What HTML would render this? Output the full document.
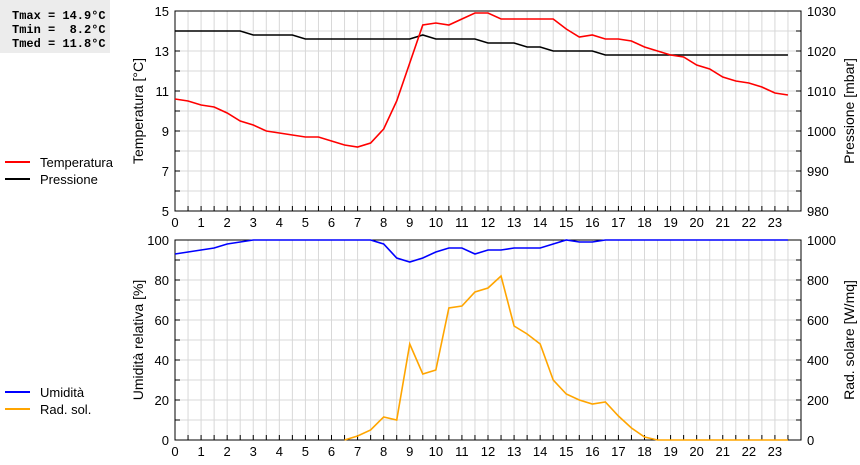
<!DOCTYPE html>
<html><head><meta charset="utf-8"><style>
body{margin:0;background:#fff;font-family:"Liberation Sans",sans-serif}
svg text{font-family:"Liberation Sans",sans-serif;font-size:13px;fill:#000}
</style></head><body>
<svg id="c" width="860" height="460" xmlns="http://www.w3.org/2000/svg">
<rect x="0" y="0" width="110" height="53" fill="#ececec"/>
<text x="12" y="19" style="font-family:'Liberation Mono',monospace;font-size:12px;font-weight:bold" xml:space="preserve">Tmax = 14.9°C</text>
<text x="12" y="33" style="font-family:'Liberation Mono',monospace;font-size:12px;font-weight:bold" xml:space="preserve">Tmin =  8.2°C</text>
<text x="12" y="47" style="font-family:'Liberation Mono',monospace;font-size:12px;font-weight:bold" xml:space="preserve">Tmed = 11.8°C</text>
<g id="g"></g>
</svg>
<script>
const hours=[0,0.5,1,1.5,2,2.5,3,3.5,4,4.5,5,5.5,6,6.5,7,7.5,8,8.5,9,9.5,10,10.5,11,11.5,12,12.5,13,13.5,14,14.5,15,15.5,16,16.5,17,17.5,18,18.5,19,19.5,20,20.5,21,21.5,22,22.5,23,23.5];
const temperature=[10.6,10.5,10.3,10.2,9.9,9.5,9.3,9.0,8.9,8.8,8.7,8.7,8.5,8.3,8.2,8.4,9.1,10.5,12.4,14.3,14.4,14.3,14.6,14.9,14.9,14.6,14.6,14.6,14.6,14.6,14.1,13.7,13.8,13.6,13.6,13.5,13.2,13.0,12.8,12.7,12.3,12.1,11.7,11.5,11.4,11.2,10.9,10.8];
const pressure=[1025,1025,1025,1025,1025,1025,1024,1024,1024,1024,1023,1023,1023,1023,1023,1023,1023,1023,1023,1024,1023,1023,1023,1023,1022,1022,1022,1021,1021,1020,1020,1020,1020,1019,1019,1019,1019,1019,1019,1019,1019,1019,1019,1019,1019,1019,1019,1019];
const humidity=[93,94,95,96,98,99,100,100,100,100,100,100,100,100,100,100,98,91,89,91,94,96,96,93,95,95,96,96,96,98,100,99,99,100,100,100,100,100,100,100,100,100,100,100,100,100,100,100];
const radiation=[0,0,0,0,0,0,0,0,0,0,0,0,0,0,20,50,115,100,480,330,350,660,670,740,760,820,570,530,480,300,230,200,180,190,120,60,15,0,0,0,0,0,0,0,0,0,0,0];
const xTicks=[0,1,2,3,4,5,6,7,8,9,10,11,12,13,14,15,16,17,18,19,20,21,22,23];
const tTicks=[5,7,9,11,13,15];
const pTicks=[980,990,1000,1010,1020,1030];
const hTicks=[0,20,40,60,80,100];
const rTicks=[0,200,400,600,800,1000];
const X0=175,X1=801;
const x=h=>X0+h*(X1-X0)/24;
const pTop={y0:211,y1:11},pBot={y0:440,y1:240};
const yT=v=>pTop.y0-(v-5)/10*200, yP=v=>pTop.y0-(v-980)/50*200;
const yH=v=>pBot.y0-v*2, yR=v=>pBot.y0-v/5;
const g=document.getElementById('g');const NS='http://www.w3.org/2000/svg';
function el(t,a,txt){const e=document.createElementNS(NS,t);for(const k in a)e.setAttribute(k,a[k]);if(txt!==undefined)e.textContent=txt;g.appendChild(e);return e;}
function panel(p,lt,rt,yl,yr,nm,ltitle,rtitle,hstep,lmin,lmax){
  for(let h=0.5;h<24;h+=0.5){const e=el('line',{x1:x(h),x2:x(h),y1:p.y1,y2:p.y0,stroke:'#d8d8d8'});}
  for(let v=lmin+hstep;v<lmax;v+=hstep){const y=p.y0-(v-lmin)/(lmax-lmin)*200;const e=el('line',{x1:X0,x2:X1,y1:y,y2:y,stroke:'#d8d8d8'});
    el('line',{x1:X0,x2:X0+5,y1:y,y2:y,stroke:'#000'});el('line',{x1:X1-5,x2:X1,y1:y,y2:y,stroke:'#000'});}
  const r=el('rect',{x:X0,y:p.y1,width:X1-X0,height:200,fill:'none',stroke:'#000'});
  for(let h=0.5;h<24;h+=0.5)el('line',{x1:x(h),x2:x(h),y1:p.y0-5,y2:p.y0,stroke:'#000'});
  xTicks.forEach(h=>{const t=el('text',{x:x(h),y:p.y0+16,'text-anchor':'middle'},h);});
  lt.forEach(v=>{const t=el('text',{x:X0-6,y:yl(v)+5,'text-anchor':'end'},v);});
  rt.forEach(v=>{const t=el('text',{x:X1+6,y:yr(v)+5},v);});
  const my=(p.y0+p.y1)/2;
  const a=el('text',{transform:`translate(143,${my}) rotate(-90)`,'text-anchor':'middle',style:'font-size:14px'},ltitle);
  const b=el('text',{transform:`translate(854,${my}) rotate(-90)`,'text-anchor':'middle',style:'font-size:14px'},rtitle);
}
panel(pTop,tTicks,pTicks,yT,yP,'top','Temperatura [°C]','Pressione [mbar]',1,5,15);
panel(pBot,hTicks,rTicks,yH,yR,'bottom','Umidità relativa [%]','Rad. solare [W/mq]',10,0,100);
function line(vals,fy,col,nm,start){let pts=[];hours.forEach((h,i)=>{if(i>=start)pts.push(x(h)+','+fy(vals[i]));});
  const e=el('polyline',{points:pts.join(' '),fill:'none',stroke:col,'stroke-width':1.6});}
line(pressure,yP,'#000','pressure-line',0);
line(temperature,yT,'#f00','temperature-line',0);
line(humidity,yH,'#00f','humidity-line',0);
line(radiation,yR,'#ffa500','radiation-line',13);
function legend(y,col,label,nm){const l=el('line',{x1:5,x2:30,y1:y,y2:y,stroke:col,'stroke-width':2});
  const t=el('text',{x:40,y:y+5},label);}
legend(162,'#f00','Temperatura','legend-temperatura');
legend(179,'#000','Pressione','legend-pressione');
legend(392,'#00f','Umidità','legend-umidita');
legend(409,'#ffa500','Rad. sol.','legend-rad-sol');
</script>
</body></html>
